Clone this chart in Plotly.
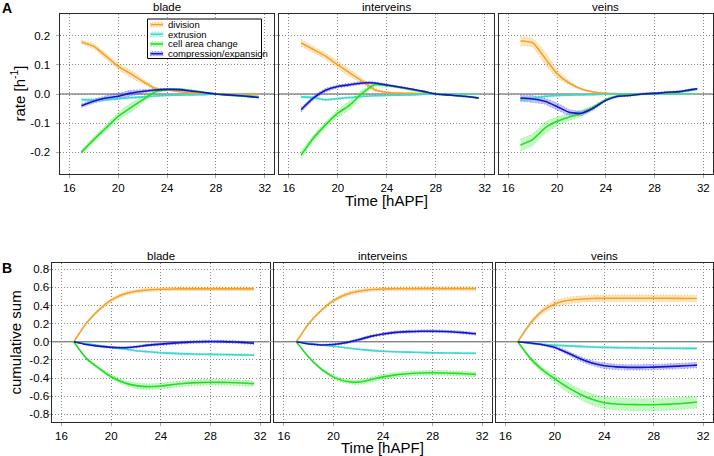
import plotly.graph_objects as go

W, H = 714, 456

# ---------------- data ----------------
time = [17, 18, 19, 20, 21, 22, 23, 24, 25, 26, 27, 28, 29, 30, 31, 31.5]
series_names = ["division", "extrusion", "cell area change", "compression/expansion"]
panel_titles = ["blade", "interveins", "veins"]
x_tickvals = [16, 20, 24, 28, 32]
x_ticktext = ["16", "20", "24", "28", "32"]
rate_tickvals = [-0.2, -0.1, 0.0, 0.1, 0.2]
rate_ticktext = ["-0.2", "-0.1", "0.0", "0.1", "0.2"]
cum_tickvals = [-0.8, -0.6, -0.4, -0.2, 0.0, 0.2, 0.4, 0.6, 0.8]
cum_ticktext = ["-0.8", "-0.6", "-0.4", "-0.2", "0.0", "0.2", "0.4", "0.6", "0.8"]

# rates (panel A)
rate_blade_division = [0.179, 0.164, 0.130, 0.095, 0.070, 0.044, 0.020, 0.014, 0.008, 0.004, 0.002, 0.000, 0.000, -0.001, -0.001, -0.001]
rate_blade_extrusion = [-0.020, -0.020, -0.019, -0.016, -0.013, -0.010, -0.007, -0.005, -0.004, -0.003, -0.002, 0.000, -0.002, -0.004, -0.007, -0.009]
rate_blade_cellarea = [-0.200, -0.157, -0.117, -0.077, -0.048, -0.020, 0.007, 0.015, 0.016, 0.012, 0.006, 0.000, -0.004, -0.007, -0.010, -0.012]
rate_blade_compression = [-0.040, -0.025, -0.014, -0.008, 0.003, 0.009, 0.014, 0.016, 0.015, 0.010, 0.005, 0.000, -0.003, -0.006, -0.010, -0.012]

rate_iv_division = [0.176, 0.153, 0.130, 0.100, 0.072, 0.044, 0.015, 0.006, 0.003, 0.002, 0.001, 0.000, 0.000, 0.000, 0.000, 0.000]
rate_iv_extrusion = [-0.010, -0.012, -0.020, -0.016, -0.012, -0.008, -0.006, -0.005, -0.004, -0.003, -0.001, 0.000, 0.000, 0.000, 0.000, 0.000]
rate_iv_cellarea = [-0.210, -0.152, -0.106, -0.066, -0.037, 0.003, 0.032, 0.029, 0.023, 0.015, 0.007, 0.000, -0.003, -0.007, -0.011, -0.014]
rate_iv_compression = [-0.054, -0.014, 0.013, 0.026, 0.032, 0.038, 0.038, 0.031, 0.024, 0.017, 0.009, 0.000, -0.003, -0.007, -0.011, -0.014]

rate_v_division = [0.182, 0.176, 0.124, 0.070, 0.038, 0.017, 0.007, 0.002, 0.001, 0.000, 0.000, 0.000, 0.000, 0.000, 0.000, 0.000]
rate_v_extrusion = [-0.020, -0.015, -0.008, -0.005, -0.004, -0.003, -0.002, -0.001, 0.000, 0.000, 0.000, 0.000, 0.000, 0.000, 0.000, 0.000]
rate_v_cellarea = [-0.175, -0.157, -0.117, -0.094, -0.079, -0.066, -0.045, -0.020, -0.006, -0.002, 0.000, 0.002, 0.003, 0.007, 0.013, 0.017]
rate_v_compression = [-0.014, -0.017, -0.025, -0.043, -0.063, -0.066, -0.048, -0.022, -0.008, -0.005, 0.000, 0.002, 0.006, 0.008, 0.015, 0.018]

# band half-widths (panel A)
band_rate_blade_division = [0.006, 0.008, 0.010, 0.010, 0.012, 0.008, 0.004, 0.003, 0.002, 0.002, 0.002, 0.002, 0.002, 0.002, 0.002, 0.002]
band_rate_blade_extrusion = [0.005, 0.004, 0.004, 0.003, 0.003, 0.002, 0.002, 0.002, 0.002, 0.002, 0.002, 0.002, 0.002, 0.002, 0.002, 0.002]
band_rate_blade_cellarea = [0.006, 0.008, 0.010, 0.012, 0.015, 0.010, 0.006, 0.004, 0.003, 0.003, 0.002, 0.002, 0.002, 0.002, 0.002, 0.002]
band_rate_blade_compression = [0.006, 0.007, 0.008, 0.010, 0.010, 0.006, 0.004, 0.003, 0.003, 0.002, 0.002, 0.002, 0.002, 0.002, 0.002, 0.002]

band_rate_iv_division = [0.012, 0.010, 0.010, 0.012, 0.012, 0.008, 0.005, 0.003, 0.002, 0.002, 0.002, 0.002, 0.002, 0.002, 0.002, 0.002]
band_rate_iv_extrusion = [0.004, 0.004, 0.003, 0.003, 0.003, 0.002, 0.002, 0.002, 0.002, 0.002, 0.002, 0.002, 0.002, 0.002, 0.002, 0.002]
band_rate_iv_cellarea = [0.012, 0.010, 0.010, 0.012, 0.015, 0.010, 0.006, 0.004, 0.003, 0.003, 0.002, 0.002, 0.002, 0.002, 0.002, 0.002]
band_rate_iv_compression = [0.008, 0.007, 0.006, 0.005, 0.005, 0.005, 0.004, 0.003, 0.003, 0.002, 0.002, 0.002, 0.002, 0.002, 0.002, 0.002]

band_rate_v_division = [0.015, 0.015, 0.020, 0.015, 0.006, 0.003, 0.002, 0.002, 0.002, 0.002, 0.002, 0.002, 0.002, 0.002, 0.002, 0.002]
band_rate_v_extrusion = [0.006, 0.005, 0.004, 0.003, 0.002, 0.002, 0.002, 0.002, 0.002, 0.002, 0.002, 0.002, 0.002, 0.002, 0.002, 0.002]
band_rate_v_cellarea = [0.020, 0.020, 0.020, 0.015, 0.012, 0.010, 0.006, 0.004, 0.003, 0.003, 0.003, 0.003, 0.003, 0.003, 0.003, 0.003]
band_rate_v_compression = [0.010, 0.012, 0.010, 0.012, 0.010, 0.008, 0.006, 0.004, 0.003, 0.003, 0.003, 0.003, 0.003, 0.003, 0.003, 0.003]

# cumulative sums (panel B)
cum_blade_division = [0.0, 0.205, 0.350, 0.460, 0.525, 0.558, 0.572, 0.580, 0.583, 0.584, 0.584, 0.584, 0.584, 0.584, 0.584, 0.584]
cum_blade_extrusion = [0.0, -0.020, -0.040, -0.060, -0.080, -0.098, -0.110, -0.121, -0.128, -0.133, -0.137, -0.139, -0.141, -0.143, -0.145, -0.147]
cum_blade_cellarea = [0.0, -0.183, -0.290, -0.385, -0.448, -0.484, -0.495, -0.488, -0.472, -0.458, -0.450, -0.447, -0.448, -0.452, -0.458, -0.462]
cum_blade_compression = [0.0, -0.030, -0.048, -0.062, -0.066, -0.055, -0.037, -0.026, -0.015, -0.006, 0.000, 0.003, 0.002, -0.003, -0.010, -0.015]

cum_iv_division = [0.0, 0.200, 0.345, 0.455, 0.522, 0.558, 0.575, 0.582, 0.585, 0.586, 0.587, 0.587, 0.587, 0.587, 0.587, 0.587]
cum_iv_extrusion = [0.0, -0.015, -0.035, -0.050, -0.066, -0.082, -0.095, -0.105, -0.110, -0.114, -0.118, -0.121, -0.123, -0.125, -0.127, -0.128]
cum_iv_cellarea = [0.0, -0.170, -0.300, -0.390, -0.435, -0.445, -0.418, -0.387, -0.365, -0.352, -0.345, -0.341, -0.344, -0.349, -0.356, -0.360]
cum_iv_compression = [0.0, -0.025, -0.035, -0.030, -0.010, 0.022, 0.060, 0.086, 0.104, 0.112, 0.116, 0.117, 0.114, 0.106, 0.095, 0.088]

cum_v_division = [0.0, 0.200, 0.340, 0.418, 0.455, 0.470, 0.477, 0.480, 0.481, 0.481, 0.481, 0.481, 0.480, 0.479, 0.478, 0.477]
cum_v_extrusion = [0.0, -0.018, -0.030, -0.038, -0.045, -0.051, -0.057, -0.062, -0.064, -0.066, -0.068, -0.070, -0.071, -0.072, -0.073, -0.073]
cum_v_cellarea = [0.0, -0.180, -0.310, -0.410, -0.500, -0.575, -0.635, -0.672, -0.686, -0.692, -0.694, -0.694, -0.690, -0.683, -0.672, -0.664]
cum_v_compression = [0.0, -0.014, -0.032, -0.062, -0.120, -0.185, -0.235, -0.265, -0.277, -0.282, -0.282, -0.279, -0.274, -0.268, -0.261, -0.257]

# band half-widths (panel B)
band_cum_blade_division = [0.0, 0.010, 0.015, 0.020, 0.020, 0.020, 0.020, 0.020, 0.020, 0.020, 0.020, 0.020, 0.020, 0.020, 0.020, 0.020]
band_cum_blade_extrusion = [0.0, 0.003, 0.005, 0.006, 0.007, 0.008, 0.009, 0.010, 0.010, 0.010, 0.010, 0.010, 0.010, 0.010, 0.010, 0.010]
band_cum_blade_cellarea = [0.0, 0.010, 0.015, 0.020, 0.025, 0.030, 0.030, 0.030, 0.030, 0.030, 0.030, 0.030, 0.030, 0.030, 0.030, 0.030]
band_cum_blade_compression = [0.0, 0.005, 0.008, 0.010, 0.012, 0.012, 0.013, 0.014, 0.015, 0.015, 0.015, 0.015, 0.015, 0.015, 0.015, 0.015]

band_cum_iv_division = [0.0, 0.010, 0.015, 0.020, 0.020, 0.020, 0.020, 0.020, 0.020, 0.020, 0.020, 0.020, 0.020, 0.020, 0.020, 0.020]
band_cum_iv_extrusion = [0.0, 0.003, 0.004, 0.005, 0.006, 0.007, 0.008, 0.008, 0.008, 0.008, 0.008, 0.008, 0.008, 0.008, 0.008, 0.008]
band_cum_iv_cellarea = [0.0, 0.010, 0.015, 0.020, 0.022, 0.025, 0.025, 0.025, 0.025, 0.025, 0.025, 0.025, 0.025, 0.025, 0.025, 0.025]
band_cum_iv_compression = [0.0, 0.005, 0.008, 0.010, 0.012, 0.013, 0.014, 0.015, 0.015, 0.015, 0.015, 0.015, 0.015, 0.015, 0.015, 0.015]

band_cum_v_division = [0.0, 0.020, 0.030, 0.035, 0.035, 0.035, 0.035, 0.035, 0.035, 0.035, 0.035, 0.035, 0.035, 0.035, 0.035, 0.035]
band_cum_v_extrusion = [0.0, 0.005, 0.008, 0.010, 0.010, 0.010, 0.010, 0.010, 0.010, 0.010, 0.010, 0.010, 0.010, 0.010, 0.010, 0.010]
band_cum_v_cellarea = [0.0, 0.020, 0.030, 0.040, 0.050, 0.055, 0.060, 0.065, 0.065, 0.065, 0.065, 0.065, 0.065, 0.065, 0.065, 0.065]
band_cum_v_compression = [0.0, 0.005, 0.010, 0.015, 0.020, 0.025, 0.025, 0.030, 0.030, 0.030, 0.030, 0.030, 0.030, 0.030, 0.030, 0.030]

# ---------------- styles ----------------
line_colors = ["#F0A232", "#3FD8CC", "#22DD22", "#1414C8"]
band_fills = ["rgba(255,170,40,0.30)", "rgba(64,224,208,0.30)", "rgba(40,235,40,0.28)", "rgba(70,70,255,0.33)"]
band_edges = ["rgba(255,170,40,0.65)", "rgba(64,224,208,0.65)", "rgba(40,235,40,0.6)", "rgba(70,70,255,0.6)"]
FONT = "Liberation Sans, Arial, Helvetica, sans-serif"

panels = [
    ([rate_blade_division, rate_blade_extrusion, rate_blade_cellarea, rate_blade_compression],
     [band_rate_blade_division, band_rate_blade_extrusion, band_rate_blade_cellarea, band_rate_blade_compression]),
    ([rate_iv_division, rate_iv_extrusion, rate_iv_cellarea, rate_iv_compression],
     [band_rate_iv_division, band_rate_iv_extrusion, band_rate_iv_cellarea, band_rate_iv_compression]),
    ([rate_v_division, rate_v_extrusion, rate_v_cellarea, rate_v_compression],
     [band_rate_v_division, band_rate_v_extrusion, band_rate_v_cellarea, band_rate_v_compression]),
    ([cum_blade_division, cum_blade_extrusion, cum_blade_cellarea, cum_blade_compression],
     [band_cum_blade_division, band_cum_blade_extrusion, band_cum_blade_cellarea, band_cum_blade_compression]),
    ([cum_iv_division, cum_iv_extrusion, cum_iv_cellarea, cum_iv_compression],
     [band_cum_iv_division, band_cum_iv_extrusion, band_cum_iv_cellarea, band_cum_iv_compression]),
    ([cum_v_division, cum_v_extrusion, cum_v_cellarea, cum_v_compression],
     [band_cum_v_division, band_cum_v_extrusion, band_cum_v_cellarea, band_cum_v_compression]),
]

# panel frames in pixels: (x0, x1, y0_top, y1_bottom)
frames = [
    (59.5, 274.0, 14.0, 174.0),
    (279.0, 494.0, 14.0, 174.0),
    (498.5, 712.5, 14.0, 174.0),
    (51.5, 269.5, 262.5, 422.0),
    (274.0, 491.5, 262.5, 422.0),
    (495.5, 712.5, 262.5, 422.0),
]
XRANGE = [15.2, 32.75]


def px(x):
    return x / W


def py(y):
    return 1 - y / H


fig = go.Figure()
SMOOTH = dict(shape="spline", smoothing=0.6)

for k, (vals, bands) in enumerate(panels):
    xa = "x" if k == 0 else f"x{k+1}"
    ya = "y" if k == 0 else f"y{k+1}"
    for s in range(4):
        up = [v + b for v, b in zip(vals[s], bands[s])]
        lo = [v - b for v, b in zip(vals[s], bands[s])]
        fig.add_trace(go.Scatter(x=time, y=up, xaxis=xa, yaxis=ya, mode="lines",
                                 line=dict(color=band_edges[s], width=1, dash="1px,2px", **SMOOTH),
                                 showlegend=False, hoverinfo="skip"))
        fig.add_trace(go.Scatter(x=time, y=lo, xaxis=xa, yaxis=ya, mode="lines",
                                 fill="tonexty", fillcolor=band_fills[s],
                                 line=dict(color=band_edges[s], width=1, dash="1px,2px", **SMOOTH),
                                 showlegend=False, hoverinfo="skip"))
    for s in range(4):
        fig.add_trace(go.Scatter(x=time, y=vals[s], xaxis=xa, yaxis=ya, mode="lines",
                                 name=series_names[s],
                                 line=dict(color=line_colors[s], width=1.6, **SMOOTH),
                                 showlegend=False))

layout = dict(
    width=W, height=H,
    margin=dict(l=0, r=0, t=0, b=0),
    paper_bgcolor="white", plot_bgcolor="white",
    font=dict(family=FONT, color="black"),
    showlegend=False,
)

shapes = []
annotations = []

for k, (x0, x1, y0, y1) in enumerate(frames):
    top = k < 3
    xkey = "xaxis" if k == 0 else f"xaxis{k+1}"
    ykey = "yaxis" if k == 0 else f"yaxis{k+1}"
    ya = "y" if k == 0 else f"y{k+1}"
    xa = "x" if k == 0 else f"x{k+1}"
    first = k % 3 == 0
    common = dict(showline=True, mirror=True, linecolor="#2a2a2a", linewidth=1,
                  showgrid=True, gridcolor="#888888", griddash="1px,2px", gridwidth=1,
                  zeroline=False, ticks="outside", ticklen=3, tickcolor="#aaaaaa",
                  tickfont=dict(size=11.5, family=FONT, color="black"), fixedrange=True)
    layout[xkey] = dict(domain=[px(x0), px(x1)], range=XRANGE, anchor=ya,
                        tickvals=x_tickvals, ticktext=x_ticktext, **common)
    if top:
        yr = [-0.275, 0.275]
        tv, tt = rate_tickvals, rate_ticktext
    else:
        yr = [-0.885, 0.875]
        tv, tt = cum_tickvals, cum_ticktext
    ydict = dict(domain=[py(y1), py(y0)], range=yr, anchor=xa,
                 tickvals=tv, ticktext=tt, showticklabels=first, **common)
    ydict["ticklabelstandoff"] = 3 if top else -4
    layout[ykey] = ydict
    shapes.append(dict(type="line", xref=f"{xa} domain", yref=ya, x0=0, x1=1, y0=0, y1=0,
                       line=dict(color="#555555", width=1), layer="below"))
    annotations.append(dict(text=panel_titles[k % 3], x=px((x0 + x1) / 2), y=py(y0 - 7),
                            xref="paper", yref="paper", showarrow=False,
                            font=dict(size=11.5, family=FONT), xanchor="center", yanchor="middle"))

annotations.append(dict(text="rate [h<sup>-1</sup>]", x=px(18.5), y=py(94), xref="paper", yref="paper",
                        showarrow=False, textangle=-90, font=dict(size=15, family=FONT),
                        xanchor="center", yanchor="middle"))
annotations.append(dict(text="cumulative sum", x=px(15), y=py(342.5), xref="paper", yref="paper",
                        showarrow=False, textangle=-90, font=dict(size=15, family=FONT),
                        xanchor="center", yanchor="middle"))
annotations.append(dict(text="Time [hAPF]", x=px(386.5), y=py(200), xref="paper", yref="paper",
                        showarrow=False, font=dict(size=15, family=FONT),
                        xanchor="center", yanchor="middle"))
annotations.append(dict(text="Time [hAPF]", x=px(382.5), y=py(447.5), xref="paper", yref="paper",
                        showarrow=False, font=dict(size=15, family=FONT),
                        xanchor="center", yanchor="middle"))
annotations.append(dict(text="<b>A</b>", x=px(6.5), y=py(7.5), xref="paper", yref="paper",
                        showarrow=False, font=dict(size=14, family=FONT),
                        xanchor="center", yanchor="middle"))
annotations.append(dict(text="<b>B</b>", x=px(6.5), y=py(268), xref="paper", yref="paper",
                        showarrow=False, font=dict(size=14, family=FONT),
                        xanchor="center", yanchor="middle"))

# compact legend box, as in the reference
lg_x0, lg_x1, lg_y0, lg_y1 = 147.5, 261.5, 19.0, 58.5
shapes.append(dict(type="rect", xref="paper", yref="paper", x0=px(lg_x0), x1=px(lg_x1),
                   y0=py(lg_y1), y1=py(lg_y0), fillcolor="white",
                   line=dict(color="black", width=1), layer="above"))
for s in range(4):
    yc = 24.6 + 9.7 * s
    shapes.append(dict(type="rect", xref="paper", yref="paper", x0=px(150.5), x1=px(163),
                       y0=py(yc + 2.2), y1=py(yc - 2.2), fillcolor=band_fills[s],
                       line=dict(color=band_edges[s], width=1, dash="1px,2px"), layer="above"))
    shapes.append(dict(type="line", xref="paper", yref="paper", x0=px(150.5), x1=px(163),
                       y0=py(yc), y1=py(yc), line=dict(color=line_colors[s], width=1.5),
                       layer="above"))
    annotations.append(dict(text=series_names[s], x=px(165.5), y=py(yc), xref="paper", yref="paper",
                            showarrow=False, font=dict(size=9.5, family=FONT),
                            xanchor="left", yanchor="middle"))

layout["shapes"] = shapes
layout["annotations"] = annotations
fig.update_layout(**layout)

fig.write_html("out.html", config={"displayModeBar": False},
               post_script="document.body.style.margin='0';document.body.style.padding='0';")
